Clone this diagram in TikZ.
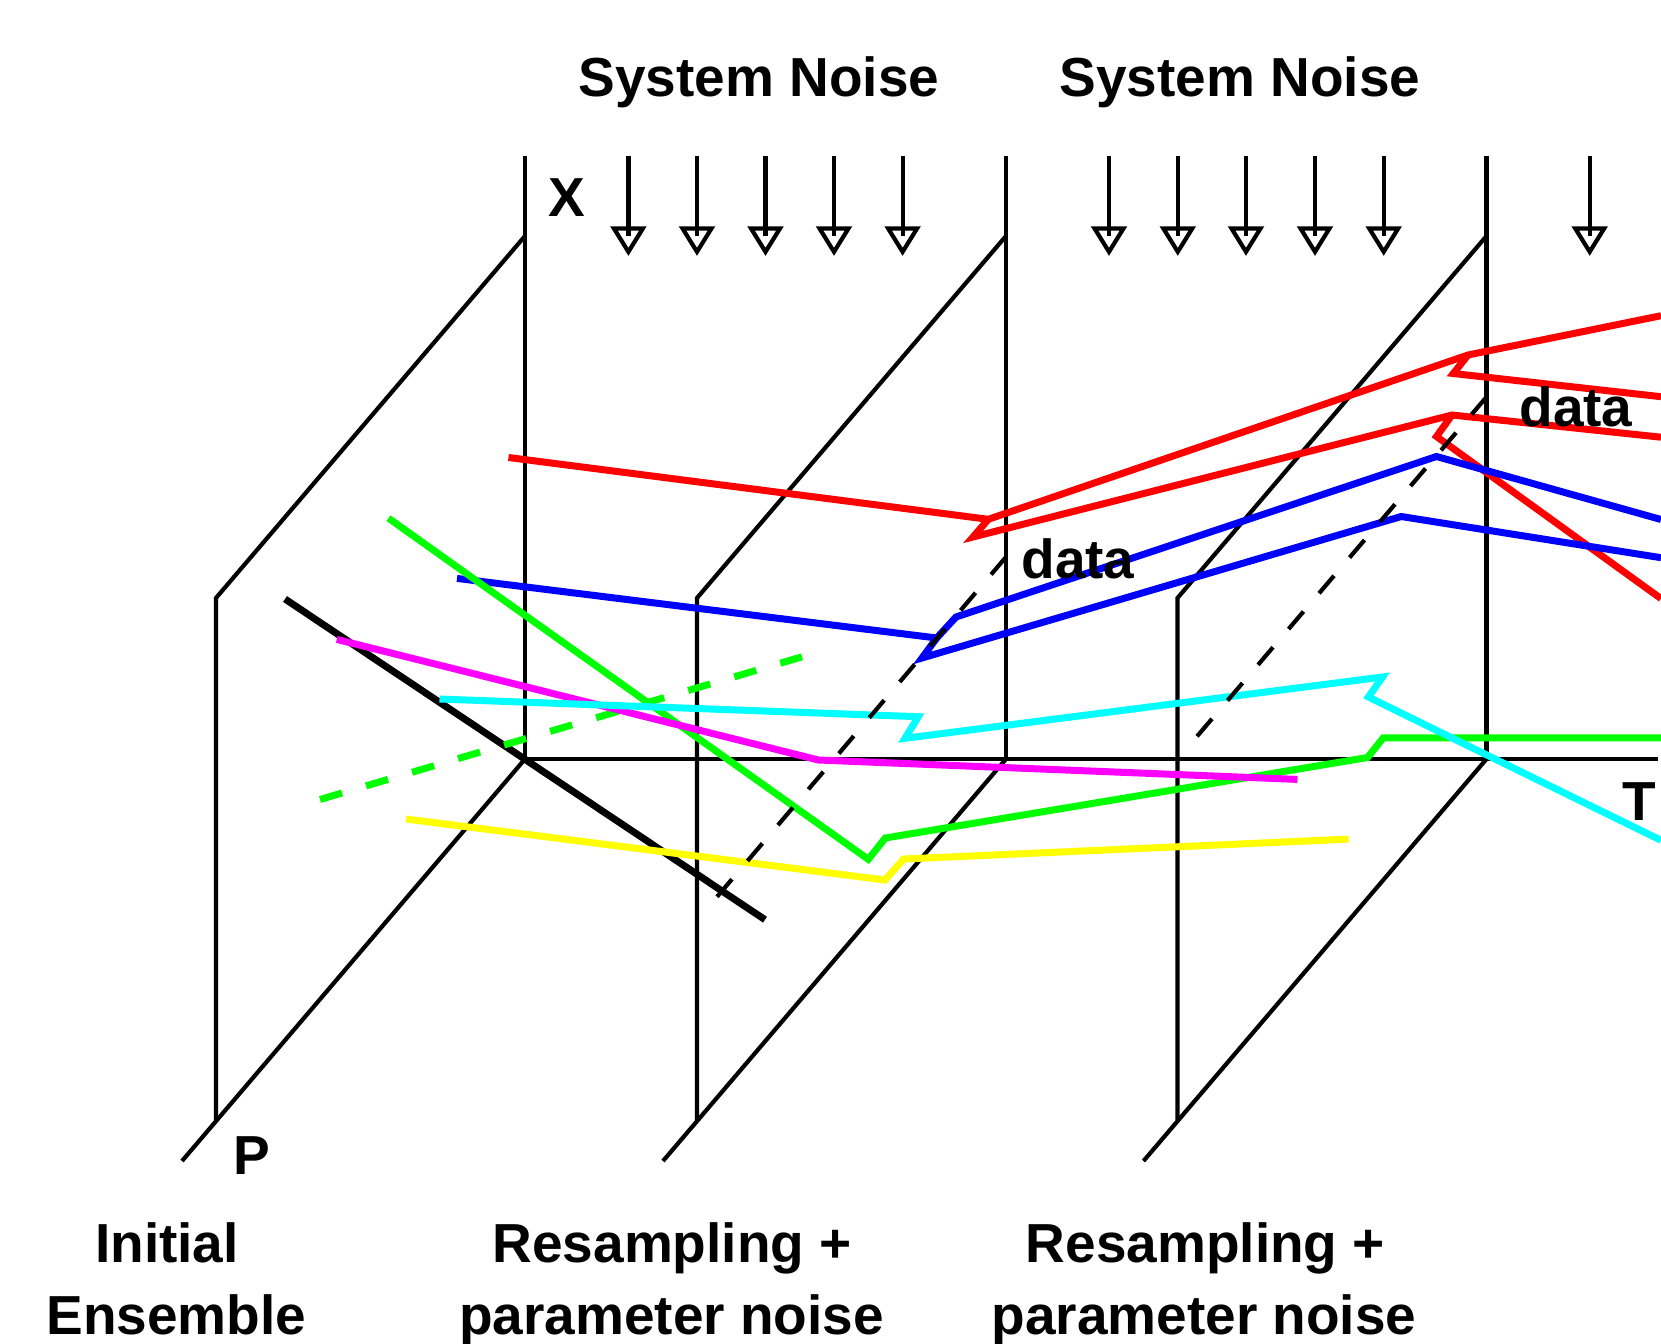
\documentclass[tikz,border=0pt]{standalone}
\usepackage{fontspec}
\setmainfont{Liberation Sans}
\definecolor{pred}{RGB}{255,0,0}
\definecolor{pblue}{RGB}{0,0,255}
\definecolor{pgreen}{RGB}{0,255,0}
\definecolor{pcyan}{RGB}{0,255,255}
\definecolor{pmag}{RGB}{255,0,255}
\definecolor{pyel}{RGB}{255,255,0}
\begin{document}
\begin{tikzpicture}[x=0.5pt,y=-0.5pt,
  frameline/.style={line width=2.1pt,black},
  ensline/.style={line width=3.5pt},
  dataline/.style={line width=2.1pt,black,dash pattern=on 11.5pt off 12pt},
  lbl/.style={font=\fontsize{27.5}{33}\selectfont\bfseries,inner sep=0pt,anchor=base}]
\useasboundingbox (0,0) rectangle (1661,1344);
\clip (0,0) rectangle (1661,1344);

% frames (time slices)
\foreach \s in {0,481,961.5} {
  \draw[frameline] (525+\s,155.6) -- (525+\s,759);
  \draw[frameline] (525+\s,236) -- (216+\s,598) -- (216+\s,1120);
  \draw[frameline] (525+\s,759) -- (182+\s,1161);
}
\coordinate (o) at (525,759);
\coordinate (tend) at (1658,759);
\draw[frameline] (o) -- (tend);

% system noise arrows
\foreach \x in {628.4,697,765.5,834,902.6,1109,1177.8,1246,1315,1383.7,1589.7} {
  \draw[frameline,fill=white] (\x-14.5,228.4) -- (\x+14.5,228.4) -- (\x,251.8) -- cycle;
  \draw[frameline] (\x,155.6) -- (\x,236);
}

% initial ensemble in parameter direction
\coordinate (k0) at (285,599);
\coordinate (k1) at (765,919.7);
\draw[ensline,black] (k0) -- (k1);

% red
\coordinate (r0) at (508.5,457.5);
\coordinate (a1) at (988.3,519.3);
\coordinate (a2) at (973,537);
\coordinate (b1) at (1468,355);
\coordinate (b2) at (1453.3,373.5);
\coordinate (c1) at (1452,415);
\coordinate (c2) at (1436.5,436.5);
\draw[ensline,pred] (r0) -- (a1) -- (b1) -- (1661,315.7);
\draw[ensline,pred] (a1) -- (a2) -- (c1) -- (1661,437.2);
\draw[ensline,pred] (b1) -- (b2) -- (1661,396.7);
\draw[ensline,pred] (c1) -- (c2) -- (1661,598.6);

% blue
\coordinate (u0) at (457,578.4);
\coordinate (d0) at (936.7,638);
\coordinate (d1) at (956,617);
\coordinate (d2) at (922,658);
\coordinate (e1) at (1436.5,456.5);
\coordinate (f1) at (1401.2,516.5);
\draw[ensline,pblue] (u0) -- (d0) -- (d1) -- (e1) -- (1661,519.5);
\draw[ensline,pblue] (d0) -- (d2) -- (f1) -- (1661,557.7);

% green
\coordinate (g0) at (388.5,518.2);
\coordinate (g1) at (868.3,859.3);
\coordinate (g2) at (885.3,838);
\coordinate (j1) at (1367.5,757.5);
\coordinate (j2) at (1383.3,737.8);
\draw[ensline,pgreen] (g0) -- (g1) -- (g2) -- (j1) -- (j2) -- (1661,737.8);

% green dashed
\coordinate (gd0) at (320,799.5);
\coordinate (gd1) at (802,656.8);
\draw[ensline,pgreen,dash pattern=on 11.5pt off 12.5pt] (gd0) -- (gd1);

% magenta
\coordinate (m0) at (336.8,639.4);
\coordinate (m1) at (818.4,760);
\coordinate (m2) at (1297.5,779.4);
\draw[ensline,pmag] (m0) -- (m1) -- (m2);

% cyan
\coordinate (c0) at (439.5,699);
\coordinate (h1) at (918.3,716.7);
\coordinate (h2) at (905,738.3);
\coordinate (h3) at (1382.5,677);
\coordinate (h4) at (1368.4,697);
\draw[ensline,pcyan] (c0) -- (h1) -- (h2) -- (h3) -- (h4) -- (1661,840.3);

% yellow
\coordinate (y0) at (406,819);
\coordinate (y1) at (885,880);
\coordinate (y2) at (903.7,859);
\coordinate (y3) at (1348.7,839.1);
\draw[ensline,pyel] (y0) -- (y1) -- (y2) -- (y3);

% data lines
\coordinate (dt1) at (1006,557);
\coordinate (db1) at (709.5,905.6);
\coordinate (dt2) at (1486.5,397);
\coordinate (db2) at (1191.6,742.7);
\draw[dataline] (dt1) -- (db1);
\draw[dataline] (dt2) -- (db2);

% labels
\node[lbl] (sn1) at (759,96.4) {System Noise};
\node[lbl] (sn2) at (1240,96.4) {System Noise};
\node[lbl] (xl) at (567,216.5) {X};
\node[lbl] (pl) at (251.5,1174.4) {P};
\node[lbl] (tl) at (1639.5,820) {T};
\node[lbl,anchor=base west] (data1) at (1021,578.6) {data};
\node[lbl,anchor=base west] (data2) at (1519,426.5) {data};
\node[lbl] (ie1) at (167,1262.6) {Initial};
\node[lbl] (ie2) at (176.3,1334.2) {Ensemble};
\node[lbl] (rs1) at (672.2,1262.6) {Resampling +};
\node[lbl] (pn1) at (671.6,1334.2) {parameter noise};
\node[lbl] (rs2) at (1205.4,1262.6) {Resampling +};
\node[lbl] (pn2) at (1204,1334.2) {parameter noise};
\end{tikzpicture}
\end{document}
